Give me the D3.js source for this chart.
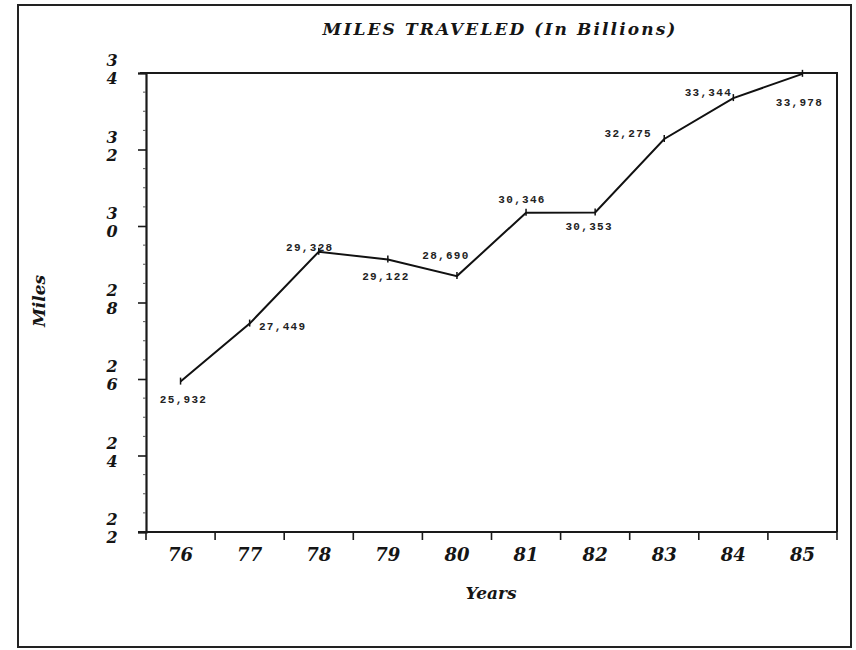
<!DOCTYPE html>
<html>
<head>
<meta charset="utf-8">
<script src="https://cdn.jsdelivr.net/npm/d3@7"></script>
<style>
  body { margin: 0; background: #fff; }
  svg { display: block; }
  .lab { font-family: "DejaVu Serif", serif; font-weight: bold; font-style: italic; fill: #151515; }
  .val { font-family: "Liberation Mono", "DejaVu Sans Mono", monospace; font-weight: bold; font-size: 11px; letter-spacing: 1.3px; fill: #222; }
</style>
</head>
<body>
<svg id="chart" width="856" height="650"></svg>
<script>
const years = ["76", "77", "78", "79", "80", "81", "82", "83", "84", "85"];
const miles = [25932, 27449, 29328, 29122, 28690, 30346, 30353, 32275, 33344, 33978];
const yTicks = [22000, 24000, 26000, 28000, 30000, 32000, 34000];

// where each value label sits relative to its point: [dx, dy]
const labelOffsets = [[3, 18], [33, 3], [-9, -4], [-2, 17], [-11, -20], [-4, -13], [-6, 15], [-36, -5], [-25, -5], [-3, 29]];

const svg = d3.select("#chart");
const plotL = 146, plotR = 837, plotT = 73, plotB = 532;

const x = d3.scaleBand().domain(years).range([plotL, plotR]).padding(0);
const y = d3.scaleLinear().domain([22000, 34000]).range([plotB, plotT]);

// outer frame
svg.append("rect")
  .attr("x", 18).attr("y", 5).attr("width", 833).attr("height", 642)
  .attr("fill", "none").attr("stroke", "#222").attr("stroke-width", 2);

// plot frame (top and right)
svg.append("path")
  .attr("d", `M${plotL - 6},${plotT} H${plotR} V${plotB}`)
  .attr("fill", "none").attr("stroke", "#1a1a1a").attr("stroke-width", 2);

// y axis
const yAxis = svg.append("g")
  .attr("transform", `translate(${plotL},0)`)
  .call(d3.axisLeft(y).tickValues(yTicks).tickSize(8).tickFormat(""));
yAxis.select(".domain").attr("stroke", "#1a1a1a").attr("stroke-width", 2.2);
yAxis.selectAll(".tick line").attr("stroke", "#1a1a1a").attr("stroke-width", 1.6);

// small minor marks on the y axis
svg.append("g").selectAll("line")
  .data(d3.range(22500, 34000, 500).filter(v => v % 2000 !== 0))
  .join("line")
  .attr("x1", plotL - 3).attr("x2", plotL)
  .attr("y1", d => y(d)).attr("y2", d => y(d))
  .attr("stroke", "#555").attr("stroke-width", 1);

// stacked digit labels, one text per digit
const digits = [];
yTicks.forEach(t => {
  const s = String(t / 1000);
  digits.push({ t, ch: s[0], row: 0 }, { t, ch: s[1], row: 1 });
});
svg.append("g").selectAll("text")
  .data(digits)
  .join("text")
  .attr("class", "lab")
  .attr("x", 112)
  .attr("y", d => y(d.t) - 7 + d.row * 18)
  .attr("text-anchor", "middle")
  .style("font-size", "16px")
  .text(d => d.ch);

// x axis
svg.append("line")
  .attr("x1", plotL - 8).attr("x2", plotR)
  .attr("y1", plotB).attr("y2", plotB)
  .attr("stroke", "#1a1a1a").attr("stroke-width", 2.2);
const bounds = years.map(d => x(d)).concat([x.range()[1]]);
svg.append("g").selectAll("line")
  .data(bounds)
  .join("line")
  .attr("x1", d => d).attr("x2", d => d)
  .attr("y1", plotB).attr("y2", plotB + 8)
  .attr("stroke", "#1a1a1a").attr("stroke-width", 1.6);
svg.append("g").selectAll("text")
  .data(years)
  .join("text")
  .attr("class", "lab")
  .attr("x", d => x(d) + x.bandwidth() / 2)
  .attr("y", plotB + 29)
  .attr("text-anchor", "middle")
  .style("font-size", "18px")
  .text(d => d);

// titles
svg.append("text").attr("class", "lab")
  .attr("x", 500).attr("y", 35).attr("text-anchor", "middle")
  .style("font-size", "17px")
  .style("letter-spacing", "2.1px")
  .text("MILES TRAVELED (In Billions)");
svg.append("text").attr("class", "lab")
  .attr("x", 491).attr("y", 599).attr("text-anchor", "middle")
  .style("font-size", "17px")
  .text("Years");
svg.append("text").attr("class", "lab")
  .attr("transform", "translate(45,301) rotate(-90)")
  .attr("text-anchor", "middle")
  .style("font-size", "17px")
  .text("Miles");

// the line
const pts = years.map((d, i) => [x(d) + x.bandwidth() / 2, y(miles[i])]);
svg.append("path")
  .attr("d", d3.line()(pts))
  .attr("fill", "none").attr("stroke", "#111").attr("stroke-width", 2);

svg.append("g").selectAll("line")
  .data(pts)
  .join("line")
  .attr("x1", d => d[0]).attr("x2", d => d[0])
  .attr("y1", d => d[1] - 4).attr("y2", d => d[1] + 3)
  .attr("stroke", "#111").attr("stroke-width", 1.5);

// value labels
const fmt = d3.format(",");
svg.append("g").selectAll("text")
  .data(miles)
  .join("text")
  .attr("class", "val")
  .attr("x", (d, i) => pts[i][0] + labelOffsets[i][0])
  .attr("y", (d, i) => pts[i][1] + labelOffsets[i][1])
  .attr("text-anchor", "middle")
  .attr("dominant-baseline", "central")
  .text(d => fmt(d));
</script>
</body>
</html>
